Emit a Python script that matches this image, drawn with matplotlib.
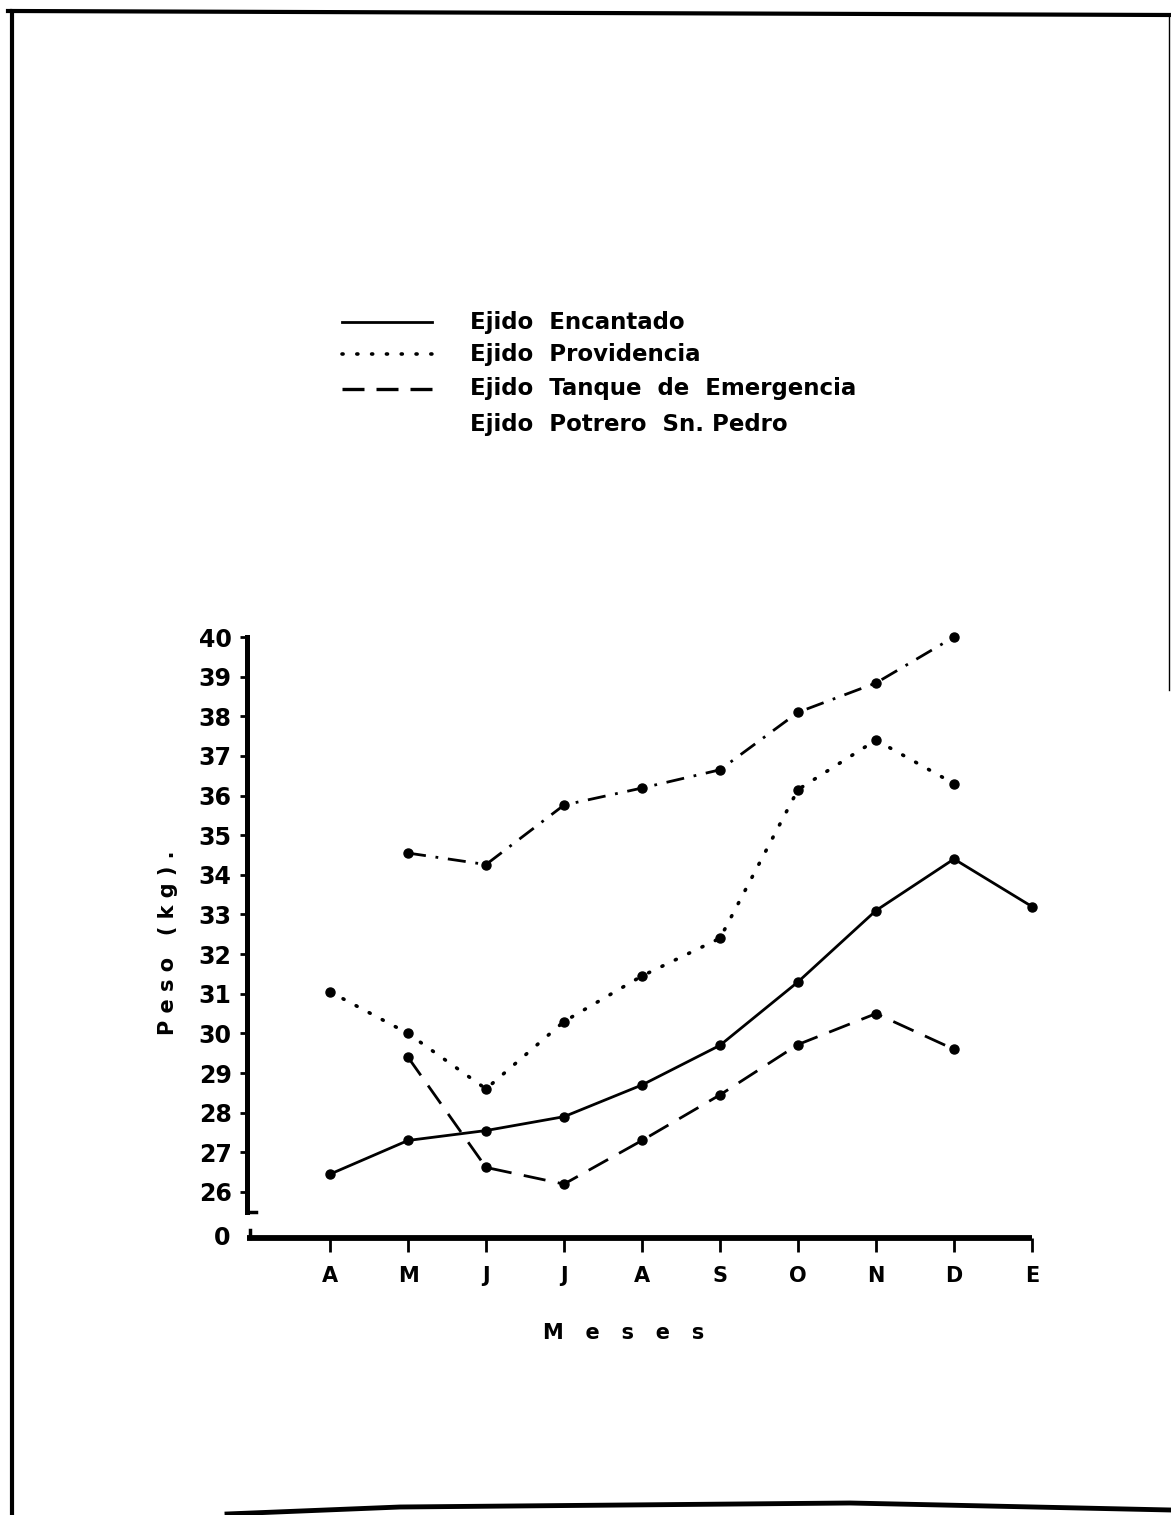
import matplotlib.pyplot as plt
import numpy as np
from matplotlib.lines import Line2D

nan = np.nan

# months (abril .. enero)
months = ["A", "M", "J", "J", "A", "S", "O", "N", "D", "E"]
yticks = list(range(26, 41))

# peso promedio (kg) por ejido
encantada = [26.45, 27.3, 27.55, 27.9, 28.7, 29.7, 31.3, 33.1, 34.4, 33.2]
providencia = [31.05, 30.0, 28.6, 30.3, 31.45, 32.4, 36.15, 37.4, 36.3, nan]
tanque = [nan, 29.4, 26.62, 26.2, 27.3, 28.45, 29.72, 30.5, 29.6, nan]
potrero = [nan, 34.55, 34.26, 35.76, 36.19, 36.65, 38.1, 38.84, 40.0, nan]

legend_labels = ["Ejido  Encantado", "Ejido  Providencia",
                 "Ejido  Tanque  de  Emergencia", "Ejido  Potrero  Sn. Pedro"]

W, H = 1171, 1515
fig = plt.figure(figsize=(W / 100, H / 100), dpi=100)
fig.patch.set_facecolor("white")


def px(x, y):
    # pixel -> figure fraction
    return x / W, 1 - y / H


# axes placed in pixels
left, right, top, bottom = 247, 1045, 630, 1238
ax = fig.add_axes([left / W, 1 - bottom / H, (right - left) / W, (bottom - top) / H])

# x: A at 330px, 78px per month ; y: 26 at 1192px, 39.64px per kg
x0, dx = 330, 78.0
y0, dy = 1192, 39.64
ax.set_xlim((left - x0) / dx, (right - x0) / dx)
ax.set_ylim(26 - (bottom - y0) / dy, 40 + (637 - top) / dy)

dotted = (0, (0.3, 3.8))
x = np.arange(len(months))
lw = 2.0
ax.plot(x, encantada, color="black", lw=lw, ls="-", marker="o", ms=6.5)
ax.plot(x, providencia, color="black", lw=2.6, ls=dotted,
        dash_capstyle="round", marker="o", ms=6.5)
ax.plot(x, tanque, color="black", lw=lw, ls=(0, (8, 4.5)), marker="o", ms=6.5)
ax.plot(x, potrero, color="black", lw=lw, ls=(0, (6.5, 3.5, 1, 3.5)),
        marker="o", ms=6.5)

for s in ["top", "right"]:
    ax.spines[s].set_visible(False)
ax.spines["left"].set_linewidth(3.6)
ax.spines["left"].set_bounds(25.5, 40)
ax.spines["bottom"].set_linewidth(4.2)
ax.spines["bottom"].set_bounds((left - x0) / dx, 9)
ax.spines["bottom"].set_capstyle("butt")

ax.set_yticks(yticks)
ax.set_yticklabels([str(v) for v in yticks], fontsize=17, fontweight="bold")
ax.tick_params(axis="y", direction="out", length=5, width=2, pad=6)
ax.set_xticks(x)
ax.set_xticklabels(months, fontsize=15, fontweight="bold")
ax.tick_params(axis="x", direction="out", length=10, width=2, pad=10)

# small foot at bottom of the y axis and the broken "0"
ax.plot([(left - x0) / dx, (left - x0) / dx + 0.12], [25.5, 25.5],
        color="black", lw=2.5, clip_on=False)
ax.plot([(left - x0) / dx + 0.04, (left - x0) / dx + 0.04],
        [ax.get_ylim()[0], ax.get_ylim()[0] + 0.2],
        color="black", lw=2.5, clip_on=False)
fig.text(*px(222, 1238), "0", fontsize=17, fontweight="bold",
         ha="center", va="center")

fig.text(*px(624, 1333), "M   e   s   e   s", fontsize=15, fontweight="bold",
         ha="center", va="center")
fig.text(*px(168, 943), "P e s o   ( k g ) .", fontsize=15, fontweight="bold",
         ha="center", va="center", rotation=90)

# legend drawn by hand
rows = [322, 354, 389, 424]
styles = ["-", dotted, (0, (6.6, 3.6)), None]
widths = [2.0, 2.6, 2.4, 0]
caps = ["butt", "round", "butt", "butt"]
for yy, st, w, cap, lab in zip(rows, styles, widths, caps, legend_labels):
    if st is not None:
        xa, ya = px(342, yy)
        xb, _ = px(432, yy)
        fig.add_artist(Line2D([xa, xb], [ya, ya], color="black", lw=w, ls=st,
                              dash_capstyle=cap))
    fig.text(*px(470, yy), lab, fontsize=16.5, fontweight="bold",
             ha="left", va="center")

# page border from the scan
fig.add_artist(Line2D([12 / W, 12 / W, 8 / W], [1 - 1514 / H, 1 - 11 / H, 1 - 11 / H],
                      color="black", lw=3))
fig.add_artist(Line2D([12 / W, 1171 / W], [1 - 11 / H, 1 - 15 / H], color="black", lw=3))
fig.add_artist(Line2D([1169 / W, 1169 / W], [1 - 15 / H, 1 - 690 / H], color="black", lw=1))
fig.add_artist(Line2D([227 / W, 400 / W, 850 / W, 1171 / W],
                      [1 - 1514 / H, 1 - 1507 / H, 1 - 1503 / H, 1 - 1510 / H],
                      color="black", lw=3.5))

fig.savefig("out.png", dpi=100, facecolor="white")
